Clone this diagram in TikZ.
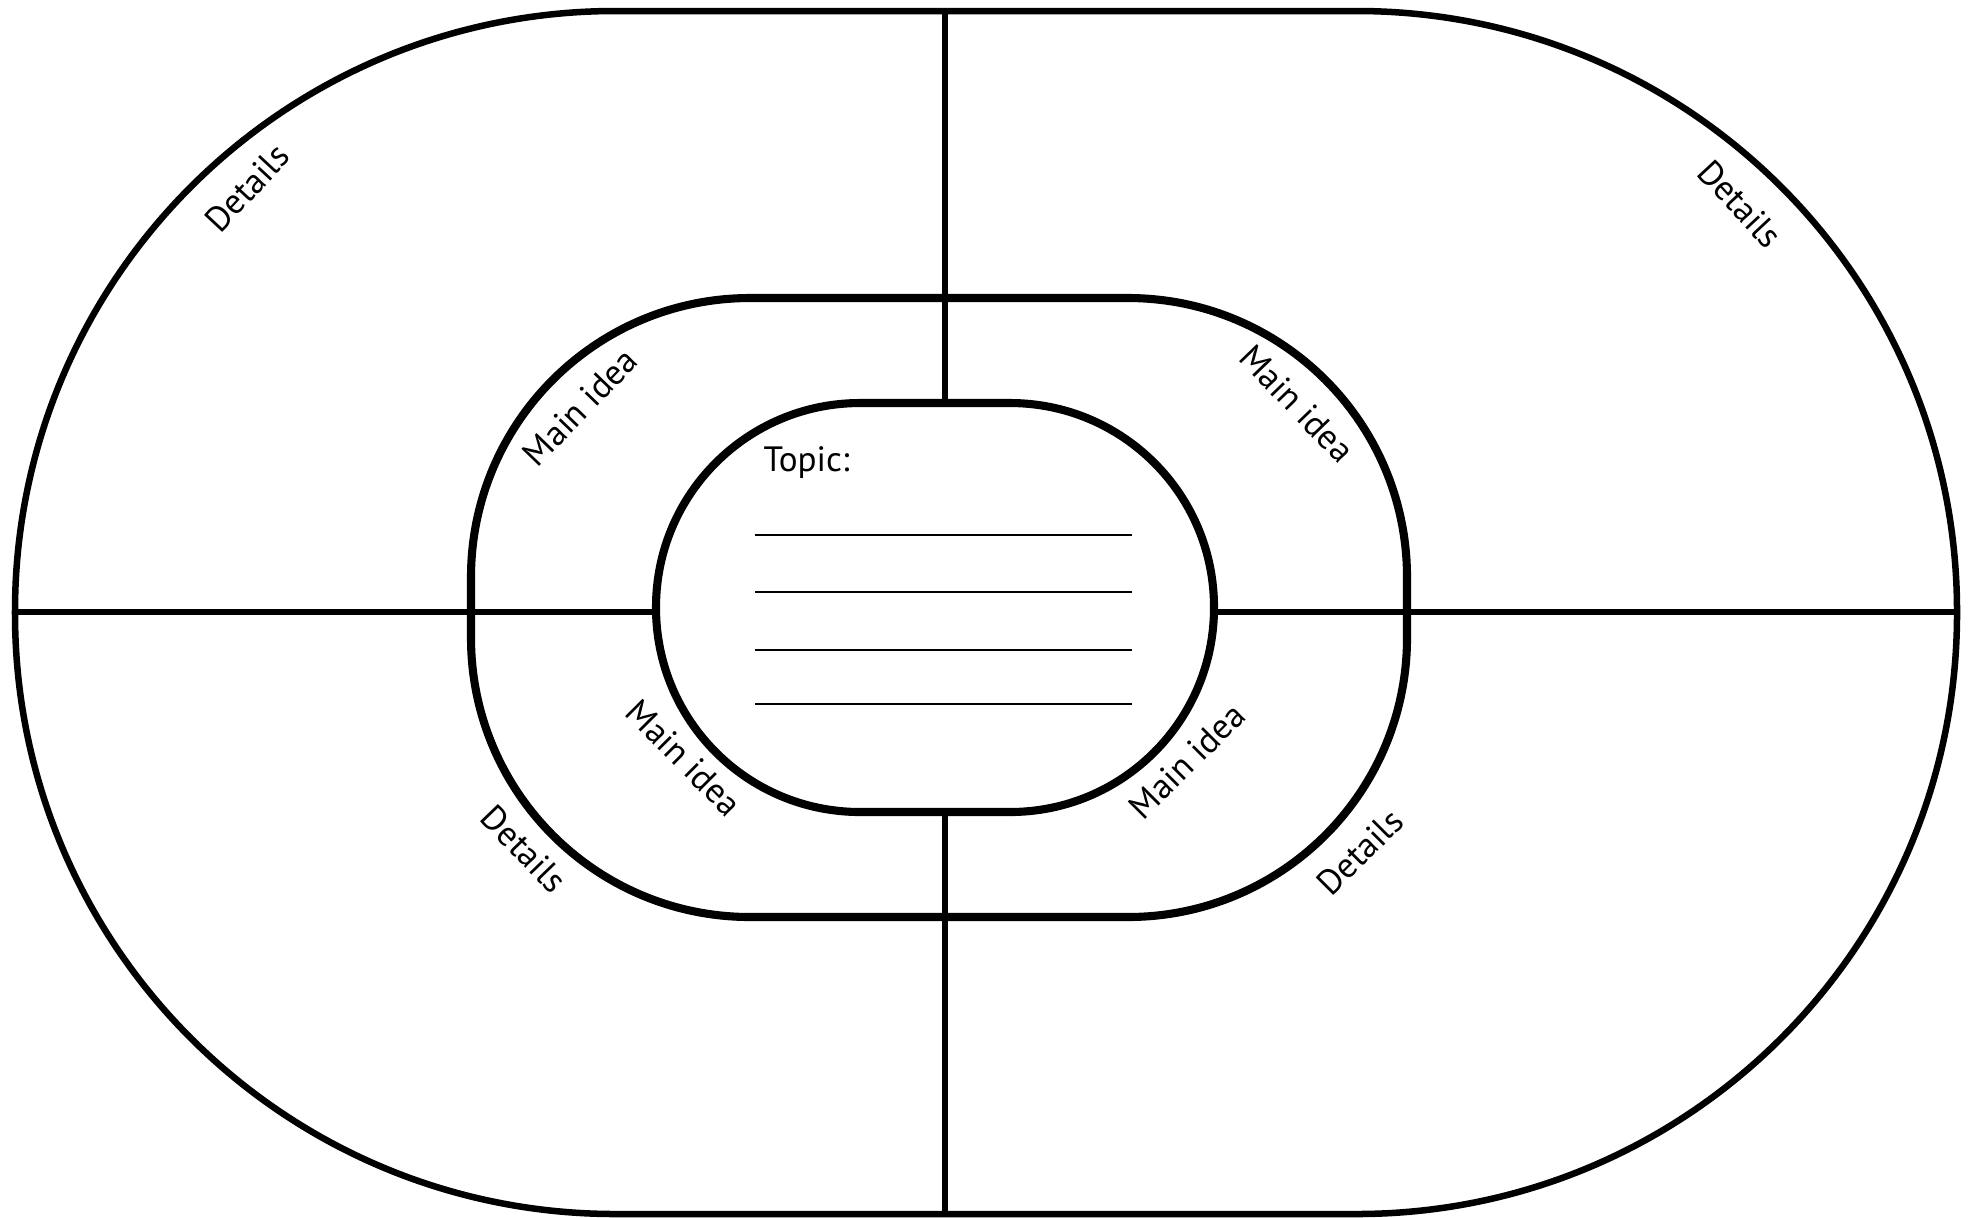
\documentclass[tikz,border=0pt]{standalone}
\usepackage{fontspec}
\setmainfont{PT Sans}
\begin{document}
\begin{tikzpicture}[x=0.01cm,y=-0.01cm,
  outerline/.style={line width=1.85pt},
  ringline/.style={line width=2.3pt},
  divider/.style={line width=1.75pt},
  writeline/.style={line width=0.5pt},
  lbl/.style={font=\fontsize{10}{12}\selectfont, inner sep=0pt}]
\useasboundingbox (0,0) rectangle (1970,1217);
% shapes
\draw[outerline, rounded corners=6.0cm] (15,11) rectangle (1957,1214);
\draw[ringline, rounded corners=2.79cm] (471,298) rectangle (1407,917);
\draw[ringline, rounded corners=2.04cm] (656,403) rectangle (1214,812);
% divider end points
\coordinate (vt1) at (945,11);
\coordinate (vt2) at (945,403);
\coordinate (vb1) at (945,812);
\coordinate (vb2) at (945,1214);
\coordinate (hl1) at (15,612);
\coordinate (hl2) at (656,612);
\coordinate (hr1) at (1214,612);
\coordinate (hr2) at (1960,612);
\draw[divider] (vt1) -- (vt2);
\draw[divider] (vb1) -- (vb2);
\draw[divider] (hl1) -- (hl2);
\draw[divider] (hr1) -- (hr2);
% topic lines
\foreach \yy [count=\i] in {535,592,650,704}{
  \coordinate (ta\i) at (755,\yy);
  \coordinate (tb\i) at (1132,\yy);
  \draw[writeline] (ta\i) -- (tb\i);
}
\node[lbl, anchor=base west] (topic) at (763,471) {Topic:};
% labels
\node[lbl, rotate=47] (d1) at (247,188) {Details};
\node[lbl, rotate=-47] (d2) at (1740,204) {Details};
\node[lbl, rotate=46] (m1) at (580,407) {Main idea};
\node[lbl, rotate=-46] (m2) at (1297,404) {Main idea};
\node[lbl, rotate=-45] (m3) at (684,758) {Main idea};
\node[lbl, rotate=45] (m4) at (1187,761) {Main idea};
\node[lbl, rotate=-46] (d3) at (524,849) {Details};
\node[lbl, rotate=45] (d4) at (1360,852) {Details};
\end{tikzpicture}
\end{document}
